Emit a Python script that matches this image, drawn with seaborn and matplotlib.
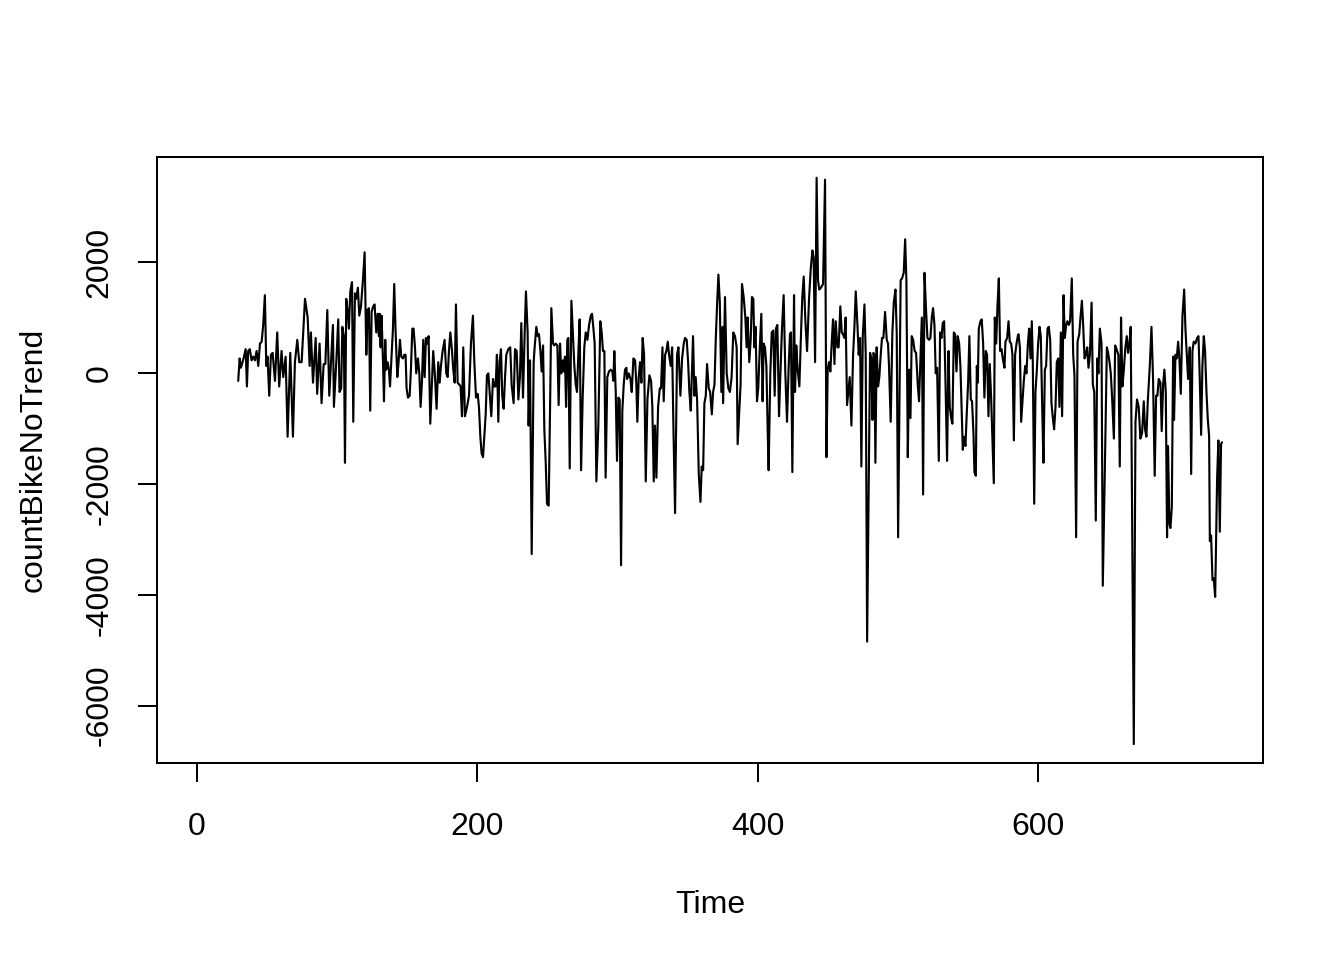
import numpy as np
import pandas as pd
import seaborn as sns
import matplotlib
matplotlib.use('Agg')
import matplotlib.pyplot as plt

import warnings
warnings.filterwarnings('ignore')

## Data: detrended daily bike counts (time, value)

time_030 = [29.7, 30.7, 31.6, 33.5, 35.0, 35.9, 36.8, 38.0, 39.2, 40.4, 41.6, 42.8, 44.0, 45.2, 46.4, 47.5,
            48.7, 49.7, 50.6, 51.8, 53.0, 54.2, 55.9, 57.5, 58.9, 60.6, 61.8, 63.5, 64.9, 66.8, 68.7, 70.1,
            71.8, 73.2, 74.9, 77.3, 79.2, 80.6, 81.5, 83.0, 84.9, 86.0, 87.7, 89.1, 90.6, 91.8, 93.2, 94.6]
count_030 = [-140, 265, 97, 265, 433, -240, 400, 433, 231, 298, 231, 400, 130, 534, 567, 870,
             1408, 130, 298, -408, 332, 366, -140, 735, -240, 400, -71, 298, -1147, 366, -1147, 198,
             601, 198, 198, 1341, 1004, 130, 735, -172, 635, -374, 534, -542, 164, 164, 1139, -408]

time_097 = [97.2, 97.9, 99.6, 101.0, 101.9, 103.1, 103.9, 105.0, 105.8, 106.7, 107.9, 108.6, 109.6, 110.8,
            111.7, 112.9, 113.8, 115.0, 116.0, 117.2, 118.6, 119.8, 121.0, 121.9, 122.9, 123.8, 124.8, 125.7,
            126.9, 128.1, 129.1, 130.0, 130.5, 131.2, 131.9, 132.9, 133.6, 134.5, 135.2, 136.2, 137.1, 137.9,
            138.8, 140.0, 140.9, 141.9, 143.1, 144.0, 145.0, 145.9, 147.1, 148.1, 149.0, 149.7, 150.7, 151.9,
            152.8, 153.8, 154.7, 155.7, 156.6, 157.8, 158.8, 159.7, 160.7, 161.6, 162.6, 163.5, 164.5, 165.4,
            166.6]
count_097 = [870, -609, 198, 971, -340, -273, 836, 668, -1618, 1341, 1072, 803, 1475, 1643,
             -878, 1441, 1341, 1542, 1038, 1206, 1677, 2181, 332, 1139, 1173, -677, 1105, 1193,
             1240, 735, 1072, 668, 1072, 466, 1038, 198, -508, 601, 63, 198, 63, -240,
             198, 803, 1609, 735, -71, 198, 601, 298, 265, 332, 332, -273, -441, -408,
             63, 803, 803, 466, -4, 265, -4, -609, -139, 601, -71, 635, 534, 668,
             -912]

time_168 = [168.7, 169.9, 171.1, 172.3, 173.3, 174.2, 175.4, 176.8, 178.0, 179.0, 179.9, 180.9, 182.1, 183.0,
            184.0, 184.9, 186.1, 187.3, 188.2, 189.2, 190.1, 191.3, 192.8, 194.2, 195.6, 197.0, 198.0, 199.2,
            200.4, 201.3, 202.3, 203.2, 204.2, 205.1, 206.1, 207.0, 208.0, 208.9, 210.1, 211.3, 212.2, 213.2,
            214.1, 215.1, 216.0, 217.0, 217.9, 218.9, 219.9, 220.8, 222.2, 223.6, 224.6, 226.0, 227.0, 228.2,
            229.4, 230.5, 231.5, 232.7, 233.9, 234.8]
count_168 = [399, -38, -643, 198, -172, 130, 399, 601, -4, -71, 399, 735, 399, 63,
             -172, 1240, -172, -206, -240, -777, 466, -777, -609, -408, 534, 1038, 198, -441,
             -374, -609, -1147, -1450, -1517, -1147, -744, -38, -4, -340, -777, -105, -240, -240,
             332, -878, 198, 433, -408, -643, -71, 332, 433, 466, -206, -542, 433, 399,
             -475, -71, 904, -441, 735, 1475]

time_236 = [236.0, 236.7, 237.7, 238.9, 240.3, 241.0, 242.2, 243.2, 244.1, 245.1, 246.0, 247.0, 247.9, 248.9,
            249.8, 251.0, 252.0, 252.9, 254.1, 255.0, 256.0, 257.2, 258.1, 259.1, 260.0, 261.0, 261.9, 262.6,
            263.4, 264.3, 265.0, 266.0, 267.2, 268.1, 269.3, 270.3, 271.2, 272.2, 273.1, 274.1, 275.2, 276.4,
            277.4, 278.6, 279.8, 281.0, 281.9, 282.9, 283.8, 285.0, 286.4, 287.8, 288.8, 289.7, 290.7, 291.6,
            292.8, 294.0, 295.2, 296.4, 297.1, 297.8, 298.8, 299.7, 300.7, 301.6, 302.6, 303.5, 304.5, 305.4,
            306.4]
count_236 = [735, -946, 231, -3265, 198, 466, 836, 668, 702, 399, 30, 500, -1013, -1618,
             -2358, -2391, -609, 1173, 534, 500, 534, 500, -576, 534, -4, 231, 30, 298,
             -609, 601, 635, -1719, 1307, 803, 130, -206, -340, 399, 971, -1752, -475, 466,
             735, 601, 870, 1038, 1072, 803, 534, -1954, -946, 937, 735, 399, 399, -1887,
             -71, 30, 63, 30, -139, 399, -340, -1584, -441, -475, -3467, -677, -206, 63,
             97]

time_307 = [306.9, 308.1, 309.3, 310.2, 311.4, 312.6, 313.5, 314.2, 315.2, 316.1, 317.1, 318.0, 319.0, 320.2,
            321.4, 322.8, 324.0, 324.9, 325.9, 326.8, 327.8, 329.0, 330.2, 331.1, 332.1, 333.0, 334.0, 334.9,
            335.9, 336.8, 338.0, 339.0, 339.9, 341.1, 342.5, 343.5, 344.9, 346.1, 347.3, 348.2, 349.4, 350.4,
            351.3, 352.3, 353.2, 353.9, 354.9, 355.8, 356.8, 358.0, 359.2, 360.1, 361.1, 362.0, 363.0, 363.9,
            365.1, 366.1, 367.3, 368.2, 369.2, 370.1, 371.1, 372.0, 373.0, 374.1, 375.1]
count_307 = [-105, -4, -105, -340, 265, 231, -206, -878, -71, 198, -172, 635, 332, -1954,
             -475, -38, -139, -609, -1954, -946, -1887, -609, -273, -273, 466, -508, 332, 399,
             567, 332, 130, 466, -946, -2526, 332, 466, -408, 265, 534, 635, 601, 198,
             -340, -677, 97, 668, -408, -71, -475, -1820, -2324, -1685, -1752, -542, -408, 164,
             -273, -340, -744, -340, -206, 601, 1273, 1778, 1273, -340, 836]

time_375 = [375.3, 376.7, 377.9, 379.1, 380.2, 381.4, 382.6, 383.8, 385.0, 385.7, 386.9, 387.8, 388.8, 390.0,
            391.2, 392.1, 392.8, 394.0, 395.0, 395.9, 396.9, 397.6, 398.5, 399.5, 400.4, 401.4, 402.6, 403.5,
            404.2, 405.2, 406.2, 407.1, 407.8, 409.0, 410.0, 411.1, 412.1, 413.0, 414.0, 415.2, 416.1, 417.3,
            418.5, 419.7, 420.9, 422.1, 423.0, 423.7, 424.7, 425.9, 426.6, 427.5, 428.5, 429.7, 430.9, 431.8,
            432.8, 434.0, 435.2, 436.6, 437.8, 439.0, 439.9, 440.9, 442.0, 443.0, 443.9, 445.1]
count_375 = [-542, 1374, -4, -273, -340, -71, 735, 668, 466, -1282, -677, -206, 1609, 1374,
             1004, 466, 1004, 198, 601, 1374, 1341, 466, 836, -508, -273, 399, 1072, -508,
             534, 466, 130, -1013, -1752, -4, 735, 769, -408, 803, 870, -777, -71, 803,
             1408, -4, -878, 130, 702, 735, -1786, 1408, -340, 500, 63, -240, 735, 1374,
             1744, 937, 399, 1341, 1879, 2215, 2080, 198, 3526, 1677, 1509, 1542]

time_447 = [446.6, 448.0, 449.0, 449.9, 450.9, 451.8, 452.8, 453.7, 454.7, 455.6, 456.8, 457.7, 458.9, 459.9,
            460.8, 461.8, 462.7, 463.7, 464.6, 465.6, 466.8, 468.0, 468.9, 469.9, 471.1, 472.0, 473.0, 473.9,
            474.9, 476.1, 477.0, 478.0, 480.1, 481.0, 481.8, 482.5, 483.2, 483.9, 484.8, 485.8, 486.7, 487.7,
            488.6, 489.6, 490.8, 492.0, 492.9, 493.6, 494.8, 496.0, 497.0, 498.2, 499.1, 500.1, 501.9, 502.9,
            504.1, 505.1, 506.0, 507.0, 507.9, 508.9, 509.8, 510.8, 511.9, 512.9, 514.1, 515.0]
count_447 = [1609, 3492, -1517, 63, 198, 30, 567, 971, 164, 937, 466, 466, 1206, 735,
             702, 635, 1004, -576, -340, -71, -946, 332, 803, 1475, 870, 332, 635, -1685,
             668, 1240, 332, -4845, 366, 265, -845, 366, 332, -1618, 466, -240, -71, 332,
             635, 635, 1105, 601, 534, 130, -878, 735, 1273, 1509, 735, -2963, 1677, 1710,
             1811, 2416, 1677, -1517, 63, -811, 668, 601, 399, 366, -206, -508]

time_517 = [517.0, 517.9, 518.9, 520.0, 521.0, 522.2, 523.1, 524.1, 525.0, 526.0, 526.9, 527.9, 529.1, 530.0,
            531.0, 531.9, 532.9, 533.8, 535.0, 536.0, 536.9, 537.9, 538.8, 539.8, 540.7, 541.7, 542.6, 543.6,
            544.5, 545.5, 546.2, 547.1, 548.1, 549.0, 550.0, 550.9, 551.9, 552.8, 553.8, 554.5, 555.5, 556.2,
            556.9, 557.6, 558.8, 559.7, 560.7, 561.6, 562.6, 563.5, 564.5, 565.4, 566.4, 567.3, 568.3, 569.0,
            570.0, 570.9, 571.9, 572.8, 573.8, 574.7, 575.9, 576.6, 577.8, 578.8, 579.7, 580.7, 581.6, 582.6,
            583.5, 584.5, 585.4]
count_517 = [1004, -2190, 1811, 1139, 635, 601, 635, 1004, 1173, 870, -4, 97, -1584, 735,
             635, 904, 937, -71, -1584, 399, -609, -811, -912, 735, 702, 30, 668, 534,
             130, -744, -1383, -1147, -1315, -744, -172, 668, -475, -508, -1080, -1786, -1853, 130,
             -172, 803, 937, 971, 534, -441, 399, 332, -777, 164, -441, -1147, -1988, 1004,
             534, 1206, 1710, 399, 433, 265, 97, 567, 635, 937, 567, 534, 332, -1214,
             332, 534, 668]

time_586 = [585.9, 586.9, 587.8, 588.8, 589.7, 590.7, 591.6, 592.6, 593.5, 594.5, 595.4, 596.1, 597.1, 598.0,
            599.0, 599.9, 600.9, 601.8, 602.8, 603.7, 604.7, 605.6, 606.6, 607.5, 608.5, 609.4, 610.4, 611.3,
            612.3, 613.2, 614.2, 615.1, 616.1, 617.0, 618.0, 618.9, 619.9, 620.8, 621.8, 622.7, 623.9, 624.9,
            625.8, 627.0, 628.0, 629.2, 630.1, 631.1, 632.0, 633.0, 633.9, 634.9, 635.8, 636.8, 638.0, 638.9,
            639.9, 641.0, 642.0, 642.9, 643.9, 645.1, 646.0, 647.5, 648.9, 649.8, 650.8, 651.7, 652.7, 653.9,
            654.8, 655.8]
count_586 = [702, 466, -878, -475, -139, 130, -4, 534, 803, 265, 937, 198, -2358, -340,
             63, 534, 836, 668, -609, -1618, 63, 130, 803, 836, 601, -542, -811, -1013,
             -609, 198, 265, -609, 735, -777, 1408, 635, 870, 937, 870, 937, 1710, 332,
             -38, -2963, 567, 702, 1004, 1307, 870, 265, 332, 466, 97, 332, 1273, -206,
             -340, -2660, 265, -4, 803, 534, -3837, -1685, 466, 366, 198, -4, -475, -1181,
             500, 433]

time_656 = [656.2, 657.1, 658.1, 659.0, 660.0, 660.9, 662.1, 663.1, 664.0, 665.0, 665.9, 668.1, 669.3, 670.4,
            671.6, 672.8, 674.0, 675.2, 676.1, 677.1, 678.0, 679.5, 680.7, 681.8, 683.0, 684.0, 684.9, 685.9,
            687.1, 688.0, 689.0, 689.9, 690.9, 691.8, 692.5, 693.5, 694.2, 695.2, 696.1, 696.8, 697.8, 698.7,
            699.7, 700.6, 701.6, 702.8, 704.0, 704.9, 705.9, 706.8, 708.0, 709.0, 709.9, 710.8, 712.0, 713.2,
            714.2, 715.1, 716.1, 717.0, 718.0, 718.9, 719.9, 720.8, 721.8, 722.3, 723.2, 724.2, 725.1, 726.1,
            727.5, 728.4, 729.4, 730.3, 731.0]
count_656 = [399, 332, -1685, 1004, -240, 30, 466, 668, 366, 534, 836, -6695, -878, -475,
             -609, -1181, -1080, -508, -1013, -1147, -542, 130, 836, -71, -1853, -408, -408, -105,
             -172, -1046, -206, 63, -340, -2963, -1315, -2727, -2795, -2425, 298, -845, 332, 265,
             567, 265, -374, 1038, 1509, 803, 332, -105, 466, -1820, 399, 567, 534, 635,
             668, -71, -1114, 130, 668, 399, -340, -811, -1147, -3030, -2929, -3736, -3702, -4038,
             -1887, -1215, -2862, -1282, -1248]

x_ticks = [0, 200, 400, 600]
y_ticks = [-6000, -4000, -2000, 0, 2000]

## Build one frame from the pieces

time_parts = [time_030, time_097, time_168, time_236, time_307, time_375, time_447, time_517, time_586, time_656]
count_parts = [count_030, count_097, count_168, count_236, count_307, count_375, count_447, count_517, count_586, count_656]

bike = pd.DataFrame({'Time': np.concatenate(time_parts),
                     'countBikeNoTrend': np.concatenate(count_parts)})

## Plot in the style of R's plot.ts

sns.set_style('ticks')
plt.rcParams['font.family'] = ['Liberation Sans', 'DejaVu Sans']
plt.rcParams['axes.unicode_minus'] = False

fig = plt.figure(figsize=(7, 5), dpi=192)
ax = fig.add_axes([157 / 1344, 197 / 960, 1106 / 1344, 606 / 960])

sns.lineplot(data=bike, x='Time', y='countBikeNoTrend', color='black', linewidth=0.8,
             estimator=None, sort=False, ax=ax)

ax.set_xlim(-28.2, 760.2)
ax.set_ylim(-7036, 3901)
ax.set_xticks(x_ticks)
ax.set_xticklabels([str(v) for v in x_ticks])
ax.set_yticks(y_ticks)
ax.set_yticklabels([str(v) for v in y_ticks], rotation=90, va='center')

for s in ax.spines.values():
    s.set_visible(True)
    s.set_linewidth(0.75)
    s.set_color('black')

ax.tick_params(axis='both', length=7.2, width=0.75, labelsize=12, color='black', labelcolor='black')
ax.tick_params(axis='x', pad=11.3)
ax.tick_params(axis='y', pad=8.7)
ax.set_xlabel('Time', fontsize=12, labelpad=18, color='black')
ax.set_ylabel('countBikeNoTrend', fontsize=12, labelpad=13.5, color='black')

fig.savefig('out.png', dpi=192)
